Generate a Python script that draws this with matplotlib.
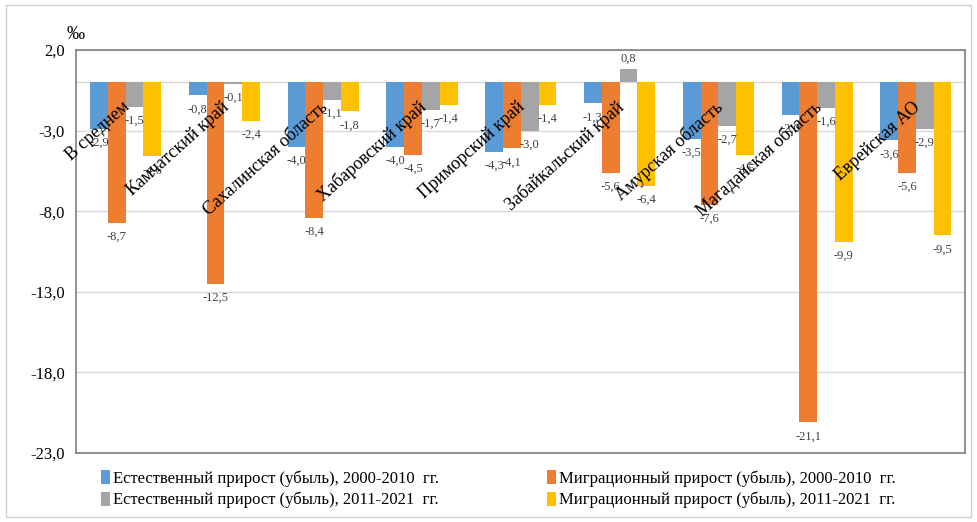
import matplotlib
matplotlib.use('Agg')
import matplotlib.pyplot as plt
import numpy as np
from matplotlib.patches import Rectangle

plt.rcParams['font.family'] = ['Liberation Serif', 'DejaVu Serif']

regions = ['В среднем', 'Камчатский край', 'Сахалинская область', 'Хабаровский край',
           'Приморский край', 'Забайкальский край', 'Амурская область',
           'Магаданская область', 'Еврейская АО']
natural_2000 = [-2.9, -0.8, -4.0, -4.0, -4.3, -1.3, -3.5, -2.0, -3.6]
migr_2000 = [-8.7, -12.5, -8.4, -4.5, -4.1, -5.6, -7.6, -21.1, -5.6]
natural_2011 = [-1.5, -0.1, -1.1, -1.7, -3.0, 0.8, -2.7, -1.6, -2.9]
migr_2011 = [-4.6, -2.4, -1.8, -1.4, -1.4, -6.4, -4.5, -9.9, -9.5]
series_names = ['Естественный прирост (убыль), 2000-2010  гг.',
                'Миграционный прирост (убыль), 2000-2010  гг.',
                'Естественный прирост (убыль), 2011-2021  гг.',
                'Миграционный прирост (убыль), 2011-2021  гг.']
colors = ['#5B9BD5', '#ED7D31', '#A5A5A5', '#FFC000']
yticks = [2.0, -3.0, -8.0, -13.0, -18.0, -23.0]

fig = plt.figure(figsize=(9.77, 5.22), dpi=100)
ax = fig.add_axes([0.078, 0.132, 0.91, 0.772])
fig.patches.append(Rectangle((0.006, 0.01), 0.988, 0.98, transform=fig.transFigure,
                             fill=False, edgecolor='#d0d0d0', linewidth=1))

x = np.arange(len(regions))
w = 0.18
all_series = [natural_2000, migr_2000, natural_2011, migr_2011]
bars = []
for i, vals in enumerate(all_series):
    pos = x + (i - 1.5) * w
    b = ax.bar(pos, vals, w, color=colors[i], label=series_names[i], zorder=3)
    bars.append(b)
    for p, v in zip(pos, vals):
        txt = ('%.1f' % v).replace('.', ',')
        if v >= 0:
            ax.text(p, v + 0.3, txt, ha='center', va='bottom', fontsize=9, color='#404040', zorder=5)
        else:
            ax.text(p, v - 0.5, txt, ha='center', va='top', fontsize=9, color='#404040', zorder=5)

for xi, name in zip(x, regions):
    ax.text(xi + 0.02, -1.4, name, rotation=42, rotation_mode='anchor', ha='right', va='center',
            fontsize=13, zorder=6)

ax.set_xlim(-0.5, len(regions) - 0.5)
ax.set_ylim(-23, 2)
ax.set_yticks(yticks)
ax.set_yticklabels([('%.1f' % t).replace('.', ',') for t in yticks], fontsize=12)
ax.set_xticks([])
ax.grid(axis='y', color='#d9d9d9', linewidth=1, zorder=0)
ax.axhline(0, color='#d9d9d9', linewidth=1, zorder=1)
ax.tick_params(axis='y', length=0, pad=8)
for s in ax.spines.values():
    s.set_color('#7f7f7f')
    s.set_linewidth(1.2)

fig.text(0.068, 0.925, '‰', fontsize=13)

# legend fills rows like the original: reorder for column-wise filling
order = [0, 2, 1, 3]
ax.legend([bars[k] for k in order], [series_names[k] for k in order],
          loc='upper center', bbox_to_anchor=(0.475, -0.005), ncol=2, frameon=False,
          fontsize=12, handlelength=0.5, handleheight=0.9, handletextpad=0.2,
          columnspacing=6.5, labelspacing=0.3)

fig.savefig('out.png', dpi=100)
